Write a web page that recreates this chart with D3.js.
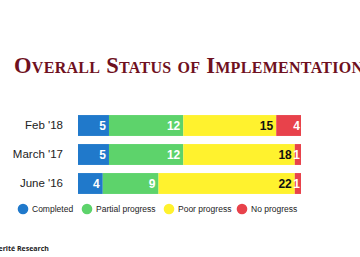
<!DOCTYPE html>
<html>
<head>
<meta charset="utf-8">
<script src="https://cdn.jsdelivr.net/npm/d3@7"></script>
<style>
  html, body { margin: 0; padding: 0; background: #fff; }
  svg { display: block; }
</style>
</head>
<body>
<svg id="chart" width="360" height="257"></svg>
<script>
  // chart data
  var periods = ["Feb '18", "March '17", "June '16"];
  var statuses = ["Completed", "Partial progress", "Poor progress", "No progress"];
  var completed = [5, 5, 4];
  var partial = [12, 12, 9];
  var poor = [15, 18, 22];
  var noProgress = [4, 1, 1];

  var colors = ["#2079cb", "#5dd36b", "#fff22e", "#e8424b"];
  var labelColors = ["#fff", "#fff", "#111", "#fff"];

  var svg = d3.select("svg");

  // title in small caps
  svg.append("text")
    .attr("x", 14)
    .attr("y", 73)
    .attr("fill", "#6f1020")
    .style("font-family", "'Liberation Serif', 'DejaVu Serif', serif")
    .style("font-size", "22.5px")
    .style("font-weight", "bold")
    .style("font-variant", "small-caps")
    .style("letter-spacing", "0.3px")
    .text("Overall Status of Implementation");

  var rows = periods.map(function (p, i) {
    var vals = [completed[i], partial[i], poor[i], noProgress[i]];
    var acc = 0;
    return {
      period: p,
      segs: vals.map(function (v, k) {
        var s = { k: k, v: v, x0: acc, x1: acc + v };
        acc += v;
        return s;
      })
    };
  });

  var total = d3.max(rows, function (r) { return r.segs[3].x1; });

  var x = d3.scaleLinear().domain([0, total]).range([78, 301]);
  var y = d3.scaleBand().domain(periods).range([111, 198]).paddingInner(0.28).paddingOuter(0.14);

  var g = svg.append("g");

  g.append("g")
    .attr("transform", "translate(72,0)")
    .call(d3.axisLeft(y).tickSize(0).tickPadding(9))
    .call(function (a) { a.select(".domain").remove(); })
    .selectAll("text")
    .attr("fill", "#222")
    .style("font-family", "Arial, 'Liberation Sans', sans-serif")
    .style("font-size", "11.5px");

  var row = g.selectAll(".row")
    .data(rows)
    .enter()
    .append("g")
    .attr("transform", function (d) { return "translate(0," + y(d.period) + ")"; });

  row.selectAll("rect")
    .data(function (d) { return d.segs; })
    .enter()
    .append("rect")
    .attr("x", function (d) { return x(d.x0); })
    .attr("width", function (d) { return x(d.x1) - x(d.x0); })
    .attr("height", y.bandwidth())
    .attr("fill", function (d) { return colors[d.k]; });

  row.selectAll(".val")
    .data(function (d) { return d.segs; })
    .enter()
    .append("text")
    .attr("x", function (d) { return x(d.x1) - (d.k === 3 ? 1 : 3); })
    .attr("y", y.bandwidth() / 2)
    .attr("dy", "0.36em")
    .attr("text-anchor", "end")
    .attr("fill", function (d) { return labelColors[d.k]; })
    .style("font-family", "Arial, 'Liberation Sans', sans-serif")
    .style("font-weight", "bold")
    .style("font-size", "12px")
    .text(function (d) { return d.v; });

  // legend
  var legendX = [23, 87, 169, 242];
  var leg = svg.selectAll(".leg")
    .data(statuses)
    .enter()
    .append("g")
    .attr("transform", function (d, i) { return "translate(" + legendX[i] + ",209)"; });

  leg.append("circle")
    .attr("r", 5.3)
    .attr("fill", function (d, i) { return colors[i]; });

  leg.append("text")
    .attr("x", 9)
    .attr("dy", "0.35em")
    .attr("fill", "#222")
    .style("font-family", "Arial, 'Liberation Sans', sans-serif")
    .style("font-size", "8.5px")
    .text(function (d) { return d; });

  // source
  svg.append("text")
    .attr("x", -6)
    .attr("y", 251)
    .attr("fill", "#222")
    .style("font-family", "'Open Sans', Arial, sans-serif")
    .style("font-weight", "bold")
    .style("font-size", "7px")
    .text("Verité Research");
</script>
</body>
</html>
